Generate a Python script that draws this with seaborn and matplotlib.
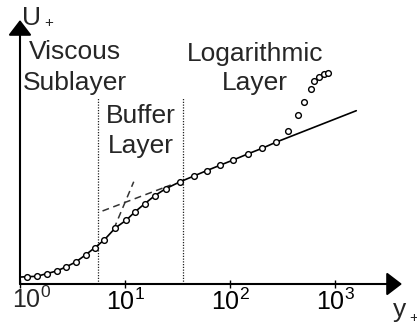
import matplotlib
matplotlib.use("Agg")
import matplotlib.pyplot as plt
import seaborn as sns
import pandas as pd

# ---- data ----
# measured points (open circles)
y_plus_pts = [1.16, 1.44, 1.79, 2.23, 2.73, 3.40, 4.23, 5.16, 6.32, 8.07, 10.3,
              12.45, 15.4, 19.15, 24.35, 33.0, 45.2, 59.7, 79.8, 107, 147, 202,
              276, 359, 447, 509, 589, 629, 702, 776, 860]
u_plus_pts = [0.97, 1.02, 1.37, 1.73, 2.26, 2.93, 3.90, 4.83, 5.85, 7.45, 8.51,
              9.61, 10.68, 11.74, 12.67, 13.56, 14.36, 15.07, 15.78, 16.49, 17.29,
              18.05, 18.88, 20.35, 22.41, 24.16, 25.89, 26.95, 27.57, 27.89, 28.06]
# law-of-the-wall profile (solid line)
y_plus_line = [1.02, 1.16, 1.44, 1.79, 2.23, 2.73, 3.40, 4.23, 5.16, 6.32, 8.07,
               10.3, 12.45, 15.4, 19.15, 24.35, 33.0, 45.2, 59.7, 79.8, 107, 147,
               202, 276, 1585]
u_plus_line = [0.93, 0.97, 1.02, 1.37, 1.73, 2.26, 2.93, 3.90, 4.83, 5.85, 7.45,
               8.51, 9.61, 10.68, 11.74, 12.67, 13.56, 14.36, 15.07, 15.78, 16.49,
               17.29, 18.05, 18.88, 23.04]
# dashed asymptotes
y_plus_visc = [7.81, 12.09]
u_plus_visc = [7.31, 13.6]
y_plus_log = [6.10, 27.2]
u_plus_log = [9.71, 13.16]
# layer limits (dotted)
layer_bounds = [5.47, 35.9]
bound_top = 24.9
tick_vals = [1, 10, 100, 1000]
tick_labels = ["", r"$\mathdefault{10^{1}}$", r"$\mathdefault{10^{2}}$", r"$\mathdefault{10^{3}}$"]

sns.set_theme(style="white")
plt.rcParams["font.family"] = ["Liberation Sans", "DejaVu Sans"]

W, H = 417, 324
fig = plt.figure(figsize=(W / 100, H / 100), dpi=100)
ax = fig.add_axes([20 / W, 1 - 284 / H, (402 - 20) / W, (284 - 20) / H])
ax.set_xscale("log")
ax.set_xlim(1.022, 4318)
ax.set_ylim(0, 35.1)

for s in ax.spines.values():
    s.set_visible(False)

# dotted layer boundaries
ax.vlines(layer_bounds, 0, bound_top, colors="#222222", linestyles=(0, (1, 1.2)), lw=0.9)

# dashed asymptotes
sns.lineplot(x=y_plus_visc, y=u_plus_visc, ax=ax, color="#333333", lw=1.1,
             linestyle=(0, (4.5, 3)), estimator=None, sort=False)
sns.lineplot(x=y_plus_log, y=u_plus_log, ax=ax, color="#333333", lw=1.1,
             linestyle=(0, (4.5, 3)), estimator=None, sort=False)

# profile line
sns.lineplot(x=y_plus_line, y=u_plus_line, ax=ax, color="black", lw=1.2,
             estimator=None, sort=False)

# points
df = pd.DataFrame({"y": y_plus_pts, "u": u_plus_pts})
sns.scatterplot(data=df, x="y", y="u", ax=ax, marker="o", s=17,
                facecolor="white", edgecolor="black", linewidth=1.0, zorder=5)

# axes arrows
arrow_kw = dict(arrowstyle="-|>,head_length=0.47,head_width=0.36", color="black",
                lw=1.5, shrinkA=0, shrinkB=0, mutation_scale=20)
ax.annotate("", xy=(1, 0), xytext=(0, 0), xycoords="axes fraction",
            textcoords="axes fraction", arrowprops=arrow_kw, annotation_clip=False)
ax.annotate("", xy=(0, 1), xytext=(0, 0), xycoords="axes fraction",
            textcoords="axes fraction", arrowprops=arrow_kw, annotation_clip=False)

ax.set_xticks(tick_vals)
ax.set_xticklabels(tick_labels)
ax.minorticks_off()
ax.set_yticks([])
ax.tick_params(axis="x", direction="inout", length=6, width=1.0, pad=0,
               labelsize=18, bottom=True, colors="black")
ax.set_xlabel("")
ax.set_ylabel("")

# first tick label shifted as in the reference
fig.text(31.5 / W, 1 - 287 / H, r"$\mathdefault{10^{0}}$", ha="center",
         va="top", fontsize=18)

fs = 19
ax.text(3.33, 29.9, "Viscous", ha="center", va="baseline", fontsize=fs)
ax.text(3.33, 25.8, "Sublayer", ha="center", va="baseline", fontsize=fs)
ax.text(14.08, 21.37, "Buffer", ha="center", va="baseline", fontsize=fs)
ax.text(14.08, 17.38, "Layer", ha="center", va="baseline", fontsize=fs)
ax.text(172, 29.6, "Logarithmic", ha="center", va="baseline", fontsize=fs)
ax.text(172, 25.8, "Layer", ha="center", va="baseline", fontsize=fs)

# axis names
fig.text(22 / W, 1 - 25 / H, "U", ha="left", va="baseline", fontsize=fs)
fig.text(44 / W, 1 - 27 / H, "+", ha="left", va="baseline", fontsize=11)
fig.text(393 / W, 1 - 317 / H, "y", ha="left", va="baseline", fontsize=fs)
fig.text(409 / W, 1 - 322 / H, "+", ha="left", va="baseline", fontsize=11)

fig.savefig("out.png", dpi=100)
